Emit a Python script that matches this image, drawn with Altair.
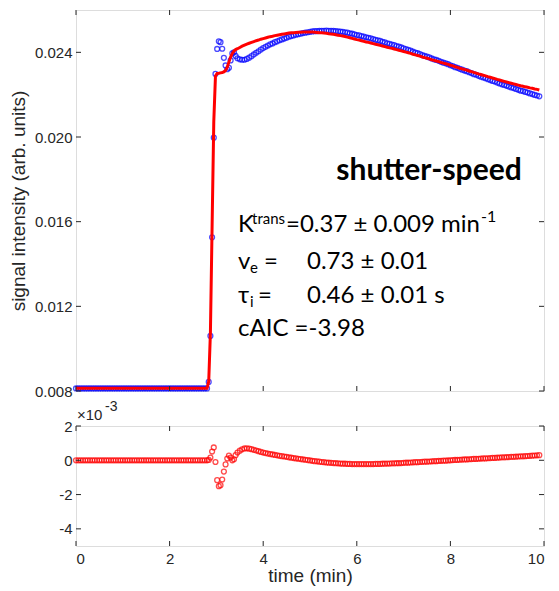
import altair as alt
import pandas as pd

# ---------------- data ----------------
base_time = [0.00, 0.05, 0.10, 0.15, 0.20, 0.25, 0.30, 0.35, 0.40, 0.45, 0.50, 0.55, 0.60, 0.65,
             0.70, 0.75, 0.80, 0.85, 0.90, 0.95, 1.00, 1.05, 1.10, 1.15, 1.20, 1.25, 1.30, 1.35,
             1.40, 1.45, 1.50, 1.55, 1.60, 1.65, 1.70, 1.75, 1.80, 1.85, 1.90, 1.95, 2.00, 2.05,
             2.10, 2.15, 2.20, 2.25, 2.30, 2.35, 2.40, 2.45, 2.50, 2.55, 2.60, 2.65, 2.70, 2.75, 2.80]
base_signal = [0.00812, 0.00812, 0.00812, 0.00812, 0.00812, 0.00812, 0.00812, 0.00812,
               0.00812, 0.00812, 0.00812, 0.00812, 0.00812, 0.00812, 0.00812, 0.00812, 0.00812, 0.00812,
               0.00812, 0.00812, 0.00812, 0.00812, 0.00812, 0.00812, 0.00812, 0.00812, 0.00812, 0.00812,
               0.00812, 0.00812, 0.00812, 0.00812, 0.00812, 0.00812, 0.00812, 0.00812, 0.00812, 0.00812,
               0.00812, 0.00812, 0.00812, 0.00812, 0.00812, 0.00812, 0.00812, 0.00812, 0.00812, 0.00812,
               0.00812, 0.00812, 0.00812, 0.00812, 0.00812, 0.00812, 0.00812, 0.00812, 0.00812]
base_fit = [0.00813, 0.00813, 0.00813, 0.00813, 0.00813, 0.00813, 0.00813, 0.00813, 0.00813, 0.00813,
            0.00813, 0.00813, 0.00813, 0.00813, 0.00813, 0.00813, 0.00813, 0.00813, 0.00813, 0.00813,
            0.00813, 0.00813, 0.00813, 0.00813, 0.00813, 0.00813, 0.00813, 0.00813, 0.00813, 0.00813,
            0.00813, 0.00813, 0.00813, 0.00813, 0.00813, 0.00813, 0.00813, 0.00813, 0.00813, 0.00813,
            0.00813, 0.00813, 0.00813, 0.00813, 0.00813, 0.00813, 0.00813, 0.00813, 0.00813, 0.00813,
            0.00813, 0.00813, 0.00813, 0.00813, 0.00813, 0.00813, 0.00813]
base_resid = [0.0, 0.0, 0.0, 0.0, 0.0, 0.0, 0.0, 0.0, 0.0, 0.0, 0.0, 0.0, 0.0, 0.0, 0.0, 0.0, 0.0, 0.0,
              0.0, 0.0, 0.0, 0.0, 0.0, 0.0, 0.0, 0.0, 0.0, 0.0, 0.0, 0.0, 0.0, 0.0, 0.0, 0.0, 0.0, 0.0,
              0.0, 0.0, 0.0, 0.0, 0.0, 0.0, 0.0, 0.0, 0.0, 0.0, 0.0, 0.0, 0.0, 0.0, 0.0, 0.0, 0.0, 0.0,
              0.0, 0.0, 0.0]

rise_time = [2.836, 2.872, 2.908, 2.944, 2.980, 3.016, 3.052, 3.088, 3.124, 3.160, 3.196, 3.232,
             3.268, 3.304, 3.340, 3.376, 3.410, 3.450]
rise_signal = [0.00843, 0.01060, 0.01526, 0.01997, 0.02298, 0.02416, 0.02452, 0.02448, 0.02417,
               0.02374, 0.02338, 0.02320, 0.02327, 0.02362, 0.02395, 0.02400, 0.02383, 0.02372]
rise_fit = [0.00845, 0.01076, 0.01577, 0.02072, 0.02288, 0.02300, 0.02301, 0.02303, 0.02305,
            0.02308, 0.02314, 0.02330, 0.02355, 0.02378, 0.02395, 0.02406, 0.02413, 0.02417]
rise_resid = [0.02, 0.16, 0.51, 0.75, -0.10, -1.16, -1.51, -1.45, -1.12, -0.66, -0.24, 0.10,
              0.28, 0.16, 0.00, 0.06, 0.30, 0.45]

tail_time = [3.50, 3.55, 3.60, 3.65, 3.70, 3.75, 3.80, 3.85, 3.90, 3.95,
             4.00, 4.05, 4.10, 4.15, 4.20, 4.25, 4.30, 4.35, 4.40, 4.45, 4.50, 4.55, 4.60, 4.65, 4.70, 4.75, 4.80, 4.85, 4.90, 4.95,
             5.00, 5.05, 5.10, 5.15, 5.20, 5.25, 5.30, 5.35, 5.40, 5.45, 5.50, 5.55, 5.60, 5.65, 5.70, 5.75, 5.80, 5.85, 5.90, 5.95,
             6.00, 6.05, 6.10, 6.15, 6.20, 6.25, 6.30, 6.35, 6.40, 6.45, 6.50, 6.55, 6.60, 6.65, 6.70, 6.75, 6.80, 6.85, 6.90, 6.95,
             7.00, 7.05, 7.10, 7.15, 7.20, 7.25, 7.30, 7.35, 7.40, 7.45, 7.50, 7.55, 7.60, 7.65, 7.70, 7.75, 7.80, 7.85, 7.90, 7.95,
             8.00, 8.05, 8.10, 8.15, 8.20, 8.25, 8.30, 8.35, 8.40, 8.45, 8.50, 8.55, 8.60, 8.65, 8.70, 8.75, 8.80, 8.85, 8.90, 8.95,
             9.00, 9.05, 9.10, 9.15, 9.20, 9.25, 9.30, 9.35, 9.40, 9.45, 9.50, 9.55, 9.60, 9.65, 9.70, 9.75, 9.80, 9.85, 9.90]
tail_signal = [0.02367, 0.02365, 0.02365, 0.02369, 0.02375, 0.02382, 0.02390, 0.02398, 0.02405, 0.02413,
               0.02420, 0.02426, 0.02432, 0.02438, 0.02442, 0.02448, 0.02452, 0.02457, 0.02461, 0.02465,
               0.02469, 0.02474, 0.02477, 0.02480, 0.02483, 0.02486, 0.02488, 0.02491, 0.02493, 0.02495,
               0.02497, 0.02499, 0.02500, 0.02500, 0.02501, 0.02502, 0.02502, 0.02503, 0.02502, 0.02502,
               0.02501, 0.02500, 0.02499, 0.02498, 0.02497, 0.02495, 0.02493, 0.02490, 0.02488, 0.02485,
               0.02482, 0.02480, 0.02477, 0.02474, 0.02471, 0.02469, 0.02466, 0.02463, 0.02459, 0.02457,
               0.02454, 0.02450, 0.02447, 0.02443, 0.02440, 0.02437, 0.02434, 0.02430, 0.02427, 0.02423,
               0.02419, 0.02415, 0.02412, 0.02408, 0.02403, 0.02399, 0.02396, 0.02392, 0.02387, 0.02383,
               0.02380, 0.02376, 0.02371, 0.02367, 0.02364, 0.02360, 0.02355, 0.02351, 0.02348, 0.02344,
               0.02339, 0.02335, 0.02330, 0.02327, 0.02322, 0.02318, 0.02314, 0.02311, 0.02306, 0.02302,
               0.02297, 0.02294, 0.02289, 0.02285, 0.02281, 0.02278, 0.02273, 0.02269, 0.02265, 0.02262,
               0.02257, 0.02253, 0.02249, 0.02246, 0.02242, 0.02238, 0.02234, 0.02231, 0.02227, 0.02223,
               0.02219, 0.02217, 0.02213, 0.02210, 0.02206, 0.02203, 0.02199, 0.02196, 0.02192]
tail_fit = [0.02423, 0.02429, 0.02434, 0.02439, 0.02443, 0.02447, 0.02451, 0.02455, 0.02458, 0.02462,
            0.02465, 0.02468, 0.02471, 0.02474, 0.02476, 0.02479, 0.02481, 0.02483, 0.02485, 0.02487,
            0.02489, 0.02491, 0.02492, 0.02493, 0.02494, 0.02495, 0.02495, 0.02496, 0.02496, 0.02496,
            0.02496, 0.02496, 0.02495, 0.02494, 0.02493, 0.02492, 0.02491, 0.02490, 0.02488, 0.02487,
            0.02485, 0.02483, 0.02481, 0.02479, 0.02477, 0.02475, 0.02472, 0.02469, 0.02466, 0.02463,
            0.02460, 0.02458, 0.02455, 0.02452, 0.02449, 0.02447, 0.02444, 0.02441, 0.02438, 0.02436,
            0.02433, 0.02430, 0.02427, 0.02424, 0.02421, 0.02419, 0.02416, 0.02413, 0.02410, 0.02407,
            0.02404, 0.02401, 0.02398, 0.02395, 0.02391, 0.02388, 0.02385, 0.02382, 0.02378, 0.02375,
            0.02372, 0.02369, 0.02365, 0.02362, 0.02359, 0.02356, 0.02352, 0.02349, 0.02346, 0.02343,
            0.02339, 0.02336, 0.02332, 0.02329, 0.02325, 0.02322, 0.02319, 0.02316, 0.02312, 0.02309,
            0.02305, 0.02302, 0.02298, 0.02295, 0.02292, 0.02289, 0.02285, 0.02282, 0.02279, 0.02276,
            0.02272, 0.02269, 0.02266, 0.02263, 0.02260, 0.02257, 0.02254, 0.02251, 0.02248, 0.02245,
            0.02242, 0.02240, 0.02237, 0.02235, 0.02232, 0.02230, 0.02227, 0.02225, 0.02222]
tail_resid = [0.56, 0.64, 0.69, 0.70, 0.68, 0.65, 0.61, 0.57, 0.53, 0.49,
              0.45, 0.42, 0.39, 0.36, 0.34, 0.31, 0.29, 0.26, 0.24, 0.22, 0.20, 0.17, 0.15, 0.13, 0.11, 0.09, 0.07, 0.05, 0.03, 0.01,
              -0.01, -0.03, -0.05, -0.06, -0.08, -0.10, -0.11, -0.13, -0.14, -0.15, -0.16, -0.17, -0.18, -0.19, -0.20, -0.20, -0.21, -0.21, -0.22, -0.22,
              -0.22, -0.22, -0.22, -0.22, -0.22, -0.22, -0.22, -0.22, -0.21, -0.21, -0.21, -0.20, -0.20, -0.19, -0.19, -0.18, -0.18, -0.17, -0.17, -0.16,
              -0.15, -0.14, -0.14, -0.13, -0.12, -0.11, -0.11, -0.10, -0.09, -0.08, -0.08, -0.07, -0.06, -0.05, -0.05, -0.04, -0.03, -0.02, -0.02, -0.01,
              0.00, 0.01, 0.02, 0.02, 0.03, 0.04, 0.05, 0.05, 0.06, 0.07, 0.08, 0.08, 0.09, 0.10, 0.11, 0.11, 0.12, 0.13, 0.14, 0.14,
              0.15, 0.16, 0.17, 0.17, 0.18, 0.19, 0.20, 0.20, 0.21, 0.22, 0.23, 0.23, 0.24, 0.25, 0.26, 0.27, 0.28, 0.29, 0.30]

x_ticks = [0, 2, 4, 6, 8, 10]
y_ticks_top = [0.008, 0.012, 0.016, 0.020, 0.024]
y_ticks_bottom = [-4, -2, 0, 2]

# ---------------- build ----------------
df = pd.DataFrame({
    "t": base_time + rise_time + tail_time,
    "signal": base_signal + rise_signal + tail_signal,
    "fit": base_fit + rise_fit + tail_fit,
    "resid": base_resid + rise_resid + tail_resid,
})

W, H1, H2 = 468, 381, 120
AX = "#262626"
LBL_FONT = "Liberation Sans"
ANN_FONT = "Lato"

xscale = alt.Scale(domain=[0, 10], nice=False, zero=False)
y1scale = alt.Scale(domain=[0.008, 0.026], nice=False, zero=False)
y2scale = alt.Scale(domain=[-5, 2], nice=False, zero=False)

common = dict(ticks=False, domain=False, grid=False, labelFont=LBL_FONT, labelFontSize=15,
              labelColor=AX, titleFont=LBL_FONT, titleFontSize=19, titleFontWeight="normal",
              titleColor=AX)
y1axis = alt.Axis(title="signal intensity (arb. units)", values=y_ticks_top, format=".3f",
                  labelPadding=4, titlePadding=6, **common)
xaxis_b = alt.Axis(title="time (min)", values=x_ticks, format="d", labelPadding=5,
                   titlePadding=0, **common)
y2axis = alt.Axis(title=None, values=y_ticks_bottom, labelExpr="datum.value + ''",
                  labelPadding=4, **common)


def ticks(values, scale, axis, channel, size, length=5):
    d = pd.DataFrame({"v": values})
    out = []
    if channel == "x":
        for a, b in [(size[1], size[1] - length), (0, length)]:
            out.append(alt.Chart(d).mark_rule(color=AX, strokeWidth=1).encode(
                x=alt.X("v:Q", scale=scale, axis=axis), y=alt.value(a), y2=alt.value(b)))
    else:
        for a, b in [(0, length), (size[0], size[0] - length)]:
            out.append(alt.Chart(d).mark_rule(color=AX, strokeWidth=1).encode(
                y=alt.Y("v:Q", scale=scale, axis=axis), x=alt.value(a), x2=alt.value(b)))
    return out


def txt(s, x, y, size, bold=False, font=ANN_FONT, align="left", color="#000000"):
    return alt.Chart(pd.DataFrame({"s": [s]})).mark_text(
        align=align, baseline="alphabetic", fontSize=size, font=font,
        fontWeight="bold" if bold else "normal", color=color
    ).encode(x=alt.value(x), y=alt.value(y), text="s:N")


base = alt.Chart(df)

pts = base.mark_point(shape="circle", filled=False, color="#0000ff", size=24, strokeWidth=1.3).encode(
    x=alt.X("t:Q", scale=xscale, axis=None),
    y=alt.Y("signal:Q", scale=y1scale, axis=y1axis),
)
fitline = base.mark_line(color="#ff0000", strokeWidth=3).encode(
    x=alt.X("t:Q", scale=xscale, axis=None),
    y=alt.Y("fit:Q", scale=y1scale, axis=y1axis),
)

# annotation positions are in pixels from the top-left corner of the upper plot
ann_layer = [
    txt("shutter-speed", 353, 170, 30, bold=True, align="center"),
    txt("K", 162, 222, 24),
    txt("trans", 176, 214, 15),
    txt("=0.37 ± 0.009 min", 210, 222, 24),
    txt("-1", 405, 212, 16),
    txt("v", 162, 259, 24),
    txt("e", 174, 263, 15),
    txt("=", 188, 259, 24),
    txt("0.73 ± 0.01", 231, 259, 24),
    txt("τ", 162, 293, 24),
    txt("i", 174, 297, 15),
    txt("=", 182, 293, 24),
    txt("0.46 ± 0.01 s", 231, 293, 24),
    txt("cAIC =-3.98", 162, 326, 24),
]

top = alt.layer(
    pts, fitline,
    *ticks(x_ticks, xscale, None, "x", (W, H1)),
    *ticks(y_ticks_top, y1scale, y1axis, "y", (W, H1)),
    *ann_layer,
).properties(width=W, height=H1)

rpts = base.mark_point(shape="circle", filled=False, color="#ff0000", size=24, strokeWidth=1.3).encode(
    x=alt.X("t:Q", scale=xscale, axis=xaxis_b),
    y=alt.Y("resid:Q", scale=y2scale, axis=y2axis),
)

bottom = alt.layer(
    rpts,
    *ticks(x_ticks, xscale, xaxis_b, "x", (W, H2)),
    *ticks(y_ticks_bottom, y2scale, y2axis, "y", (W, H2)),
    txt("×10", 1, -6, 15, font=LBL_FONT, color=AX),
    txt("-3", 29, -15, 14, font=LBL_FONT, color=AX),
).properties(width=W, height=H2)

chart = alt.vconcat(top, bottom, spacing=35, bounds="flush").properties(
    padding={"left": 0, "top": 1, "right": 0, "bottom": 0}
).configure_view(stroke=AX, strokeWidth=1).configure(background="white")

chart.save("out.html", embed_options={"renderer": "svg", "actions": False})
